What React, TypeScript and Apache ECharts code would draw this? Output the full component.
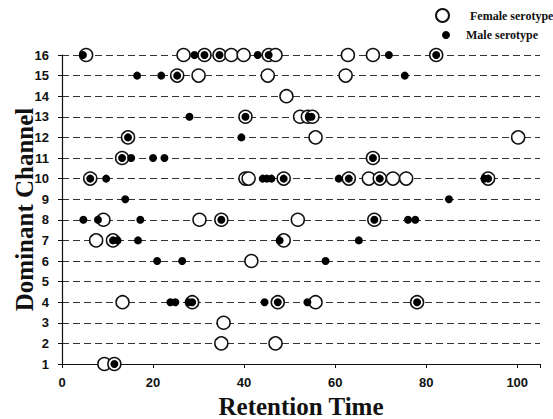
import React, { useEffect, useRef } from "react";
import * as echarts from "echarts";

// [retention time, dominant channel]
const femalePoints: number[][] = [
  [5.3, 16], [26.7, 16], [31.3, 16], [34.6, 16], [37.2, 16], [39.9, 16], [45.4, 16], [46.9, 16], [62.8, 16], [68.3, 16], [82.2, 16],
  [25.3, 15], [30.0, 15], [45.2, 15], [62.3, 15],
  [49.3, 14],
  [40.3, 13], [52.3, 13], [54.0, 13], [55.0, 13],
  [14.5, 12], [55.7, 12], [100.2, 12],
  [13.2, 11], [68.3, 11],
  [6.2, 10], [40.3, 10], [41.0, 10], [48.7, 10], [63.0, 10], [67.4, 10], [69.8, 10], [72.7, 10], [75.6, 10], [93.6, 10],
  [9.1, 8], [30.2, 8], [35.0, 8], [51.8, 8], [68.6, 8],
  [7.5, 7], [11.2, 7], [48.7, 7],
  [41.6, 6],
  [13.3, 4], [28.6, 4], [47.4, 4], [55.7, 4], [78.0, 4],
  [35.5, 3],
  [35.0, 2], [46.9, 2],
  [9.3, 1], [11.5, 1],
];

const malePoints: number[][] = [
  [4.6, 16], [29.1, 16], [31.3, 16], [34.6, 16], [43.0, 16], [45.4, 16], [71.8, 16], [82.2, 16],
  [16.5, 15], [21.8, 15], [25.3, 15], [75.3, 15],
  [28.0, 13], [40.3, 13], [54.2, 13], [54.8, 13],
  [14.5, 12], [39.4, 12],
  [13.2, 11], [15.2, 11], [20.0, 11], [22.5, 11], [68.3, 11],
  [6.2, 10], [9.7, 10], [44.1, 10], [45.0, 10], [46.0, 10], [48.7, 10], [60.8, 10], [63.0, 10], [69.8, 10], [92.8, 10], [93.6, 10],
  [13.9, 9], [85.0, 9],
  [4.7, 8], [7.9, 8], [17.2, 8], [35.0, 8], [68.6, 8], [76.0, 8], [77.6, 8],
  [11.2, 7], [12.2, 7], [16.7, 7], [47.8, 7], [65.2, 7],
  [20.9, 6], [26.4, 6], [57.9, 6],
  [23.8, 4], [24.9, 4], [27.8, 4], [28.6, 4], [44.5, 4], [47.4, 4], [53.9, 4], [78.0, 4],
  [11.5, 1],
];

const xTickLabels = [0, 20, 40, 60, 80, 100];
const femaleName = "Female serotype";
const maleName = "Male serotype";

export default function App() {
  const ref = useRef<HTMLDivElement>(null);
  useEffect(() => {
    document.body.style.margin = "0";
    const chart = echarts.init(ref.current!, null, { renderer: "svg" });
    const sans = "Liberation Sans";
    const serif = "Liberation Serif";
    chart.setOption({
      animation: false,
      backgroundColor: "#fff",
      grid: { left: 62, right: 13, top: 55, bottom: 55, containLabel: false, outerBoundsMode: "none" },
      legend: [
        {
          data: [femaleName],
          left: 430,
          top: 3,
          itemWidth: 13,
          itemHeight: 13,
          icon: "circle",
          textStyle: { fontFamily: serif, fontWeight: "bold", fontSize: 12, color: "#111", padding: [0, 0, 0, 16] },
        },
        {
          data: [maleName],
          left: 437,
          top: 24,
          itemWidth: 8,
          itemHeight: 8,
          icon: "circle",
          textStyle: { fontFamily: serif, fontWeight: "bold", fontSize: 12, color: "#111", padding: [0, 0, 0, 11] },
        },
      ],
      xAxis: {
        type: "value",
        min: 0,
        max: 105,
        interval: 20,
        name: "Retention Time",
        nameLocation: "middle",
        nameGap: 30,
        nameTextStyle: { fontFamily: serif, fontWeight: "bold", fontSize: 25, color: "#111" },
        axisLine: { show: true, lineStyle: { color: "#111", width: 1.2 } },
        axisTick: { show: true, length: 4, lineStyle: { color: "#111" } },
        axisLabel: {
          margin: 12,
          fontFamily: sans,
          fontWeight: "bold",
          fontSize: 13,
          color: "#111",
          formatter: (v: number) => (xTickLabels.includes(v) ? String(v) : ""),
        },
        splitLine: { show: false },
      },
      yAxis: {
        type: "value",
        min: 1,
        max: 16,
        interval: 1,
        name: "Dominant Channel",
        nameLocation: "middle",
        nameGap: 25,
        nameMoveOverlap: false,
        nameTextStyle: { fontFamily: serif, fontWeight: "bold", fontSize: 25, color: "#111" },
        axisLine: { show: true, lineStyle: { color: "#111", width: 1.2 } },
        axisTick: { show: true, length: 4, lineStyle: { color: "#111" } },
        axisLabel: { margin: 13, fontFamily: sans, fontWeight: "bold", fontSize: 13, color: "#111" },
        splitLine: { show: true, lineStyle: { color: "#333", type: [7, 4], width: 1.2 } },
      },
      series: [
        {
          name: femaleName,
          type: "scatter",
          data: femalePoints,
          symbol: "circle",
          symbolSize: 13,
          itemStyle: { color: "#fff", borderColor: "#111", borderWidth: 1.5, opacity: 1 },
          z: 2,
        },
        {
          name: maleName,
          type: "scatter",
          data: malePoints,
          symbol: "circle",
          symbolSize: 8,
          itemStyle: { color: "#000", opacity: 1 },
          z: 3,
        },
      ],
    });
    return () => chart.dispose();
  }, []);
  return <div ref={ref} style={{ width: 553, height: 419 }} />;
}
